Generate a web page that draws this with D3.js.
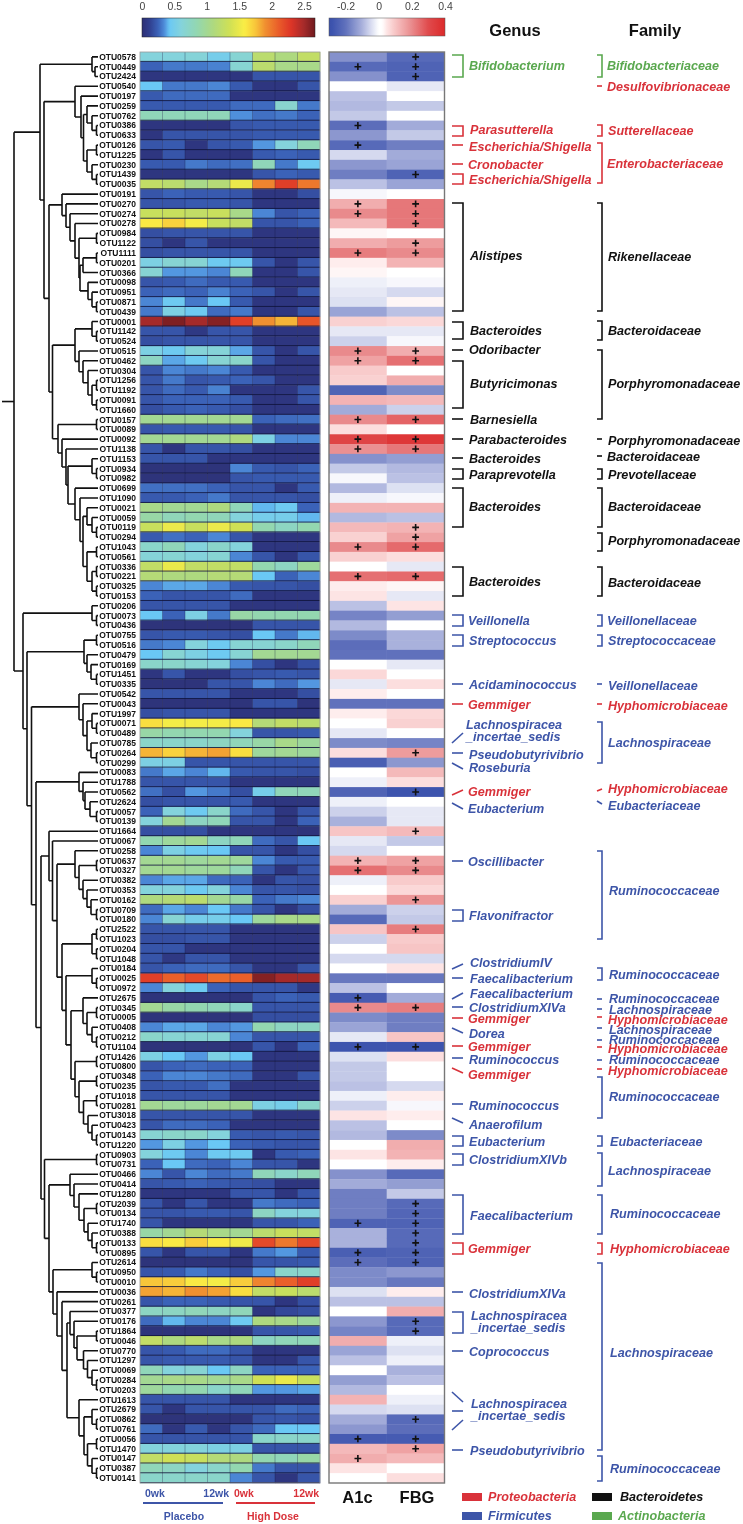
<!DOCTYPE html>
<html><head><meta charset="utf-8">
<script src="https://cdn.jsdelivr.net/npm/d3@7"></script>
<style>html,body{margin:0;padding:0;background:#fff}svg{display:block;filter:blur(.3px)}text{font-family:"Liberation Sans",Arial,sans-serif}</style>
</head><body><svg id="c" width="743" height="1524"></svg>
<script>
const otus=["0578","0449","2424","0540","0197","0259","0762","0386","0633","0126","1225","0230","1439","0035","0191","0270","0274","0278","0984","1122","1111","0201","0366","0098","0951","0871","0439","0001","1142","0524","0515","0462","0304","1256","1192","0091","1660","0157","0089","0092","1138","1153","0934","0982","0699","1090","0021","0059","0119","0294","1043","0561","0336","0221","0325","0153","0206","0073","0436","0755","0516","0479","0169","1451","0335","0542","0043","1997","0071","0489","0785","0264","0299","0083","1788","0562","2624","0057","0139","1664","0067","0258","0637","0327","0382","0353","0162","0709","0180","2522","1023","0204","1048","0184","0025","0972","2675","0345","0005","0408","0212","1104","1426","0800","0348","0235","1018","0281","3018","0423","0143","1220","0903","0731","0466","0414","1280","2039","0134","1740","0388","0133","0895","2614","0950","0010","0036","0261","0377","0176","1864","0046","0770","1297","0069","0284","0203","1613","2679","0862","0761","0056","1470","0147","0387","0141"];

const abundance=[
[.6,.6,.62,.5,.65,1.2,1.1,1.25],[.25,.3,.3,.32,.65,1.2,1.05,1.05],[.05,.05,.05,.05,.05,.2,.2,.2],[.42,.3,.3,.33,.22,.05,.05,.2],[.22,.27,.27,.27,.05,.05,.05,.05],
[.22,.22,.22,.22,.27,.27,.68,.3],[.8,.8,.8,.8,.35,.28,.3,.25],[.05,.05,.05,.05,.2,.22,.22,.22],[.05,.2,.2,.2,.2,.22,.22,.22],[.2,.22,.05,.2,.22,.36,.6,.8],
[.05,.2,.05,.05,.05,.22,.25,.22],[.22,.22,.3,.27,.28,.8,.3,.45],[.05,.05,.05,.05,.05,.2,.25,.22],[1.25,1.2,1.05,1.15,1.5,1.95,2.25,2.0],[.2,.25,.22,.22,.2,.05,.05,.18],
[.2,.2,.22,.22,.2,.05,.05,.05],[1.3,1.3,1.25,1.3,1.05,.33,.2,.25],[1.6,1.7,1.55,1.3,1.25,.2,.2,.25],[.18,.2,.2,.2,.2,.05,.05,.05],[.18,.05,.2,.05,.05,.05,.05,.05],
[.18,.2,.2,.2,.2,.05,.05,.05],[.55,.65,.65,.45,.45,.2,.05,.2],[.65,.36,.36,.33,.8,.05,.05,.2],[.2,.22,.27,.22,.22,.05,.05,.05],[.25,.27,.25,.32,.25,.2,.05,.2],
[.33,.45,.3,.42,.22,.05,.05,.05],[.3,.55,.45,.27,.3,.05,.05,.2],[2.5,2.62,2.5,2.6,2.25,1.9,1.8,2.15],[.2,.2,.07,.2,.2,.05,.05,.05],[.18,.2,.2,.2,.2,.05,.05,.05],
[.55,.45,.62,.62,.38,.2,.05,.2],[.75,.38,.45,.65,.7,.2,.05,.05],[.2,.33,.3,.33,.22,.05,.05,.05],[.2,.3,.2,.22,.25,.2,.05,.05],[.2,.27,.22,.32,.05,.05,.05,.2],
[.2,.25,.25,.25,.22,.05,.05,.2],[.18,.22,.25,.22,.18,.05,.05,.05],[1,1,1,1,1,.25,.27,.28],[.2,.22,.22,.22,.2,.05,.05,.05],[1,1,1,1,1.1,.55,.33,.33],
[.2,.05,.2,.2,.18,.05,.05,.05],[.2,.2,.2,.05,.05,.05,.05,.05],[.03,.03,.03,.03,.33,.22,.2,.25],[.03,.03,.03,.03,.2,.22,.22,.22],[.28,.28,.28,.25,.2,.2,.05,.22],
[.22,.22,.25,.3,.2,.2,.2,.18],[1.05,1,1,1.1,.8,.4,.45,.25],[.9,.8,.85,.8,.6,.5,.5,.4],[1.3,1.5,1.3,1.5,1.35,.85,.75,.85],[.22,.28,.25,.33,.2,.05,.05,.05],
[.7,.8,.6,.7,.6,.05,.05,.05],[.62,.65,.6,.65,.33,.2,.05,.2],[1.25,1.5,1.25,1.25,1.25,.85,.75,.95],[1.15,1.1,1.1,1.15,1.15,.42,.25,.33],[.33,.38,.38,.33,.22,.2,.2,.18],
[.25,.2,.2,.2,.27,.05,.05,.05],[.2,.2,.2,.2,.05,.05,.05,.05],[.42,.25,.55,.3,.9,.85,.85,.85],[.03,.03,.03,.03,.03,.2,.2,.2],[.2,.22,.22,.2,.18,.42,.3,.4],
[.3,.33,.6,.45,.65,.65,.7,.8],[.42,.65,.55,.45,.65,1,1,1],[.7,.7,.65,.6,.33,.18,.05,.18],[.05,.2,.05,.05,.18,.2,.22,.2],[.03,.03,.03,.2,.2,.33,.27,.36],
[.2,.2,.2,.2,.05,.05,.05,.18],[.03,.03,.03,.03,.03,.2,.2,.03],[.18,.2,.2,.2,.05,.05,.05,.05],[1.65,1.55,1.55,1.55,1.6,1.15,1.25,1.2],[.9,.85,.85,.85,.6,.2,.2,.22],
[.7,.7,.7,.75,.8,.9,1.05,.95],[1.8,1.7,1.8,1.85,1.65,.95,1,.95],[.55,.55,.2,.2,.2,.2,.2,.2],[.3,.38,.33,.4,.22,.2,.2,.18],[.2,.2,.2,.2,.05,.05,.05,.05],
[.28,.18,.36,.3,.18,.5,.8,.8],[.18,.2,.2,.2,.22,.05,.05,.05],[.25,.6,.45,.7,.27,.2,.05,.2],[.6,1,.75,.8,.2,.2,.05,.25],[.18,.18,.18,.05,.05,.05,.05,.03],
[.85,.95,1,.75,.8,.27,.2,.42],[.33,.55,.45,.42,.2,.2,.05,.18],[1,1,.95,1,.95,.33,.22,.22],[1,1,.95,.95,.8,.2,.05,.2],[.33,.38,.38,.27,.25,.05,.2,.18],
[.6,.6,.45,.6,.33,.2,.2,.18],[1.1,1.15,1.2,1,.9,.25,.3,.33],[.27,.38,.33,.42,.3,.2,.05,.18],[.33,.65,.5,.5,.42,.95,1.05,1.05],[.2,.2,.2,.2,.05,.05,.05,.05],
[.18,.18,.2,.2,.05,.05,.05,.05],[.2,.2,.05,.05,.05,.05,.05,.05],[.2,.07,.2,.2,.05,.05,.05,.05],[.2,.25,.27,.27,.2,.05,.05,.2],[2.25,2.1,2.2,2.05,2.1,2.6,2.5,2.5],
[.33,.6,.45,.25,.2,.2,.2,.07],[.03,.03,.03,.03,.03,.2,.25,.22],[1,.9,.85,.8,.7,.2,.2,.2],[.03,.03,.03,.03,.03,.18,.18,.18],[.33,.38,.38,.33,.36,.85,.75,.75],
[.7,.65,.65,.65,.33,.2,.2,.2],[.03,.03,.03,.03,.03,.2,.05,.25],[.55,.42,.36,.55,.42,.05,.05,.05],[.2,.25,.27,.25,.25,.05,.05,.05],[.25,.33,.33,.3,.27,.05,.05,.2],
[.2,.22,.22,.28,.05,.05,.05,.05],[.2,.2,.2,.2,.05,.05,.05,.05],[1,.95,.95,1,1,.55,.5,.7],[.2,.2,.2,.2,.2,.05,.05,.05],[.2,.27,.27,.25,.05,.05,.05,.05],
[.65,.7,.7,.6,.22,.2,.22,.2],[.36,.55,.36,.42,.25,.22,.2,.2],[.6,.45,.33,.45,.45,.05,.22,.25],[.25,.42,.27,.25,.33,.2,.2,.05],[.33,.2,.33,.27,.3,.8,.7,.8],
[.2,.22,.25,.22,.2,.18,.05,.05],[.05,.05,.05,.05,.2,.2,.05,.2],[.2,.05,.2,.05,.05,.3,.27,.25],[.2,.2,.22,.22,.2,.75,.6,.6],[.2,.05,.05,.05,.05,.2,.2,.25],
[.9,1,1.15,1.05,1,1.2,1.3,1.25],[1.65,1.6,1.72,1.6,1.52,2.2,2.0,2.2],[.2,.05,.2,.2,.05,.3,.36,.22],[.03,.03,.03,.03,.03,.2,.2,.22],[.2,.22,.3,.25,.18,.36,.7,.7],
[1.75,1.72,1.6,1.55,1.72,1.95,2.1,2.25],[1.85,1.8,1.9,1.85,1.65,1.25,1.3,1.2],[.2,.25,.25,.22,.2,.2,.05,.18],[.75,.75,.8,.75,.8,.05,.15,.18],[.27,.4,.33,.33,.45,1.1,1.05,.95],
[.03,.03,.03,.03,.03,.2,.2,.22],[1.25,1.1,1.2,1.05,1.1,.75,.8,.8],[.2,.22,.27,.27,.2,.05,.05,.05],[.2,.22,.22,.22,.2,.05,.05,.2],[.8,.6,.65,.42,.75,.25,.25,.25],
[1,1.05,1.05,1,1.05,1.35,1.5,1.3],[.95,.85,.85,.7,.8,.36,.36,.38],[.2,.2,.2,.2,.05,.05,.05,.05],[.2,.05,.2,.2,.2,.2,.27,.25],[.03,.03,.03,.03,.03,.2,.2,.18],
[.27,.05,.22,.05,.2,.27,.42,.42],[.2,.2,.2,.2,.2,.7,.7,.7],[.6,.6,.6,.55,.55,.2,.2,.2],[1.25,1.35,1.3,1.15,1.1,.85,.8,.9],[.8,.75,.6,.7,.85,.3,.2,.2],[.7,.7,.7,.7,.33,.2,.05,.2]];

const a1c=[-.15,-.22,-.15,0,-.08,-.09,-.07,-.21,-.14,-.22,-.05,-.14,-.18,-.08,-.01,.14,.2,.12,.03,.14,.22,.04,.03,-.02,-.03,-.04,-.12,.08,-.03,-.06,.2,.16,.09,.08,-.24,.13,-.11,.2,.06,.32,.19,-.15,-.07,-.01,-.09,-.02,.13,-.09,.12,.08,.2,.08,0,.24,.04,.05,-.08,-.17,-.09,-.16,-.21,-.2,0,.07,-.03,.04,-.2,.04,0,-.03,-.16,.06,-.25,0,-.02,-.24,-.02,-.06,-.1,.1,-.03,-.05,.13,.24,-.02,0,.08,-.11,-.22,.1,-.06,0,-.05,0,-.19,-.08,-.26,.2,-.16,-.12,-.03,-.28,-.04,-.07,-.07,-.08,-.02,-.06,.05,-.08,-.09,0,.05,0,-.15,-.11,-.18,-.18,-.18,-.24,-.1,-.1,-.25,-.21,-.16,-.16,-.04,-.08,0,-.14,-.17,.14,-.12,-.08,0,-.13,-.09,.13,-.05,-.11,-.14,-.26,.12,.14,.05,.02];
const fbg=[-.22,-.24,-.24,-.03,0,-.07,.02,-.11,-.07,-.18,-.11,-.12,-.24,-.12,0,.23,.23,.23,0,.17,.2,.13,0,-.01,-.05,.03,-.08,.07,-.03,-.01,.14,.24,.02,.14,-.16,.12,-.06,.26,0,.36,.23,-.13,-.09,-.08,-.04,-.01,.13,-.08,.13,.16,.25,.06,-.03,.25,.03,-.03,.05,-.13,0,-.1,-.1,-.2,-.03,0,.06,.01,-.2,.07,.08,0,-.17,.17,-.14,.12,.06,-.28,0,-.03,-.03,.12,-.07,.02,.16,.2,.09,.07,.18,-.06,-.07,.22,.09,.1,-.05,.05,-.19,0,-.11,.22,-.18,-.18,.1,-.28,.06,0,0,-.05,.04,-.01,.04,0,-.16,.14,.13,.04,-.22,-.13,-.07,-.22,-.23,-.24,-.22,-.22,-.24,-.24,-.14,-.19,.04,-.08,.14,-.22,-.22,-.02,-.04,-.02,-.1,-.08,0,-.02,-.04,-.22,-.21,-.26,.16,.12,0,.06];
const sigA1c=["0449","0386","0126","0270","0274","1111","0515","0462","0157","0092","1138","1043","0221","0637","0327","2675","0345","1104","1740","0895","2614","0056","0147"];
const sigFBG=["0578","0449","2424","1439","0270","0274","0278","1122","1111","0515","0462","0157","0092","1138","0119","0294","1043","0221","0264","0562","1664","0637","0327","0162","2522","0345","1104","2039","0134","1740","0388","0133","0895","2614","0176","1864","0862","0056","1470"];

// Dendrogram clades: [merge height, child, child]; leaves are OTU ids.
const cladeA2a=[17,"0197",[14.5,[11,"0259",[6,"0762",[1.5,"0386","0633"]]],[11,[1.5,"0126","1225"],[6,"0230",[1.5,"1439","0035"]]]]];
const cladeRik=[36,"0191",[32,"0270",[28,"0274",[23,"0278",[19,[1.5,"0984","1122"],[18,[15,[1.5,"1111","0201"],"0366"],[10,"0098",[6,"0951",[1.5,"0871","0439"]]]]]]]]];
const cladeBac=[23,[6,"0001",[1.5,"1142","0524"]],[19,"0515",[15,"0462",[10,"0304",[6,[1.5,"1256","1192"],[1.5,"0091","1660"]]]]]];
const cladeBar=[11,[1.5,"1043","0561"],[6,[1.5,"0336","0221"],[1.5,"0325","0153"]]];
const cladeM=[23,"0699",[18,"1090",[15,[11,"0021",[6,"0059",[1.5,"0119","0294"]]],cladeBar]]];
const cladeP=[40,[1.5,"0157","0089"],[36,"0092",[32,"1138",[30,[6,"1153",[1.5,"0934","0982"]],cladeM]]]];
const cladeA=[58,[6,"0578",[3,"0449","2424"]],[54,[23,"0540",cladeA2a],[49,cladeRik,[45.5,cladeBac,cladeP]]]];
const cladeB1=[14,[1.5,"0755","0516"],[11,"0479",[7,"0169",[1.5,"1451","0335"]]]];
const cladeB2=[19,"0542",[15,"0043",[11,[6,"1997",[1.5,"0071","0489"]],[7,"0785",[1.5,"0264","0299"]]]]];
const cladeB3=[19,"0083",[15,"1788",[13,"0562",[8,"2624",[1.5,"0057","0139"]]]]];
const cladeO=[23,"0258",[19,[1.5,"0637","0327"],[15,"0382",[11,"0353",[7,"0162",[1.5,"0709","0180"]]]]]];
const cladeR1=[15,"2675",[11,[1.5,"0345","0005"],[6,"0408",[1.5,"0212","1104"]]]];
const cladeR2=[23,[1.5,"1426","0800"],[19,[1.5,"0348","0235"],[14.5,[1.5,"1018","0281"],[10,"3018",[6,"0423",[1.5,"0143","1220"]]]]]];
const cladeR=[36,[6,[1.5,"2522","1023"],[1.5,"0204","1048"]],[32,[6,"0184",[1.5,"0025","0972"]],[27,cladeR1,cladeR2]]];
const cladeC1=[49,"1664",[45.5,"0067",[41,cladeO,cladeR]]];
const cladeL1=[28,"0466",[24,"0414",[19,"1280",[14,[1.5,"2039","0134"],[10,"1740",[6,"0388",[1.5,"0133","0895"]]]]]]];
const cladeL2=[28,"0377",[24,"0176",[21,[1.5,"1864","0046"],[14.5,"0770",[10.5,"1297",[6,"0069",[1.5,"0284","0203"]]]]]]];
const cladeL3=[19,"1613",[14,[6,"2679",[1.5,"0862","0761"]],[10.5,[1.5,"0056","1470"],[6,"0147",[1.5,"0387","0141"]]]]];
const cladeL=[45,[6,"2614",[1.5,"0950","0010"]],[41,"0036",[36,"0261",[31,cladeL2,cladeL3]]]];
const cladeC2=[53.5,[1.5,"0903","0731"],[49,cladeL1,cladeL]];
const cladeB=[75,[6,"0206",[1.5,"0073","0436"]],[71,cladeB1,[66.5,cladeB2,[62,cladeB3,[57,cladeC1,cladeC2]]]]];
const tree=[84,cladeA,cladeB];

const heatStops=[0,.12,.25,.35,.42,.6,.85,1.1,1.35,1.58,1.75,1.9,2.1,2.3,2.5,2.67];
const heatColors=["#2d3074","#303f90","#3b62b8","#4f8fdc","#6ac8f5","#84d3dc","#93d7b0","#aed97f","#cfe055","#faee45","#f8c63a","#f09030","#ea5f2a","#dd3527","#a52a2a","#6f1a1e"];
const corrStops=[-.3,-.28,-.2,-.1,-.05,0,.02,.05,.1,.2,.3,.4];
const corrColors=["#3a50aa","#3d54ae","#6071bc","#a9b1dc","#d5d9ef","#ffffff","#ffffff","#fde4e4","#f7c5c5","#e98a8c","#e04a4c","#dc2a2a"];
const heatTicks=[0,.5,1,1.5,2,2.5];
const corrTicks=[-.2,0,.2,.4];
const phylumNames=["Proteobacteria","Bacteroidetes","Firmicutes","Actinobacteria"];
const phylumColors={P:"#d9323a",B:"#111111",F:"#3d55a8",A:"#5aa84f"};

const genusNames=["Bifidobacterium","Parasutterella","Escherichia/Shigella","Cronobacter","Escherichia/Shigella","Alistipes","Bacteroides","Odoribacter","Butyricimonas","Barnesiella","Parabacteroides","Bacteroides","Paraprevotella","Bacteroides","Bacteroides","Veillonella","Streptococcus","Acidaminococcus","Gemmiger","Lachnospiracea\n_incertae_sedis","Pseudobutyrivibrio","Roseburia","Gemmiger","Eubacterium","Oscillibacter","Flavonifractor","ClostridiumIV","Faecalibacterium","Faecalibacterium","ClostridiumXIVa","Gemmiger","Dorea","Gemmiger","Ruminococcus","Gemmiger","Ruminococcus","Anaerofilum","Eubacterium","ClostridiumXIVb","Faecalibacterium","Gemmiger","ClostridiumXIVa","Lachnospiracea\n_incertae_sedis","Coprococcus","Lachnospiracea\n_incertae_sedis","Pseudobutyrivibrio"];
const genusPhyla="APPPPBBBBBBBBBBFFFPFFFPFFFFFFFPFPFPFFFFFPFFFFF".split("");
const familyNames=["Bifidobacteriaceae","Desulfovibrionaceae","Sutterellaceae","Enterobacteriaceae","Rikenellaceae","Bacteroidaceae","Porphyromonadaceae","Porphyromonadaceae","Bacteroidaceae","Prevotellaceae","Bacteroidaceae","Porphyromonadaceae","Bacteroidaceae","Veillonellaceae","Streptococcaceae","Veillonellaceae","Hyphomicrobiaceae","Lachnospiraceae","Hyphomicrobiaceae","Eubacteriaceae","Ruminococcaceae","Ruminococcaceae","Ruminococcaceae","Lachnospiraceae","Hyphomicrobiaceae","Lachnospiraceae","Ruminococcaceae","Hyphomicrobiaceae","Ruminococcaceae","Hyphomicrobiaceae","Ruminococcaceae","Eubacteriaceae","Lachnospiraceae","Ruminococcaceae","Hyphomicrobiaceae","Lachnospiraceae","Ruminococcaceae"];
const familyPhyla="APPPBBBBBBBBBFFFPFPFFFFFPFFPFPFFFFPFF".split("");

/* ---------- layout ---------- */
const svg=d3.select("#c");
const T=52,Bm=1483;
const y=d3.scaleBand().domain(otus).range([T,Bm]);
const xHeat=d3.scaleBand().domain(d3.range(8)).range([140,320]);
const xCorr=d3.scaleBand().domain([0,1]).range([329,444.5]);
const xTree=d3.scaleLinear().domain([0,84]).range([98,14]);
const heatColor=d3.scaleLinear().domain(heatStops).range(heatColors).clamp(true);
const corrColor=d3.scaleLinear().domain(corrStops).range(corrColors).clamp(true);

// dendrogram
const root=d3.hierarchy(tree,d=>Array.isArray(d)?d.slice(1):null);
root.eachAfter(n=>{
  if(!n.children){n.py=y(n.data)+y.bandwidth()/2;n.px=xTree(0);}
  else{n.py=(n.children[0].py+n.children[n.children.length-1].py)/2;n.px=xTree(n.data[0]);}
});
const gT=svg.append("g").attr("fill","none").attr("stroke","#111").attr("stroke-width",1.6);
gT.selectAll("path").data(root.descendants().filter(n=>n.children)).join("path")
 .attr("d",n=>{const p=d3.path();
   n.children.forEach(c=>{p.moveTo(n.px,c.py);p.lineTo(c.px,c.py);});
   p.moveTo(n.px,n.children[0].py);p.lineTo(n.px,n.children[n.children.length-1].py);return p;});
gT.append("line").attr("x1",2).attr("x2",xTree(84)).attr("y1",root.py).attr("y2",root.py);

// OTU labels
svg.append("g").selectAll("text").data(otus).join("text")
 .attr("x",136).attr("y",d=>y(d)+y.bandwidth()/2).attr("dy",".35em").attr("text-anchor","end")
 .attr("font-size",8.5).attr("font-weight","bold").attr("fill","#111").text(d=>"OTU"+d);

// heat map
const gH=svg.append("g");
otus.forEach((o,i)=>{
  gH.selectAll(null).data(abundance[i]).join("rect")
   .attr("x",(d,j)=>xHeat(j)).attr("width",xHeat.bandwidth()+.3)
   .attr("y",y(o)).attr("height",y.bandwidth()+.3).attr("fill",d=>heatColor(d));
});
gH.selectAll(null).data(otus).join("line").attr("x1",140).attr("x2",320)
 .attr("y1",d=>y(d)+y.bandwidth()-.4).attr("y2",d=>y(d)+y.bandwidth()-.4)
 .attr("stroke","#10143c").attr("stroke-width",1).attr("opacity",.85);
gH.selectAll(null).data(d3.range(1,8)).join("line").attr("x1",d=>xHeat(d)).attr("x2",d=>xHeat(d))
 .attr("y1",T).attr("y2",Bm).attr("stroke","#10143c").attr("stroke-width",.7).attr("opacity",.45);
gH.append("rect").attr("x",140).attr("y",T).attr("width",180).attr("height",Bm-T).attr("fill","none").attr("stroke","#999").attr("stroke-width",.8);

// correlation panel
const gC=svg.append("g");
[a1c,fbg].forEach((arr,k)=>{
  gC.selectAll(null).data(arr).join("rect").attr("x",xCorr(k)).attr("width",xCorr.bandwidth()+.2)
   .attr("y",(d,i)=>y(otus[i])).attr("height",y.bandwidth()+.3).attr("fill",d=>corrColor(d));
});
gC.append("rect").attr("x",xCorr(0)).attr("y",T).attr("width",115.5).attr("height",Bm-T).attr("fill","none").attr("stroke","#777").attr("stroke-width",1.4);
const plus=(list,k)=>{const cx=xCorr(k)+xCorr.bandwidth()/2;
  list.forEach(o=>{const cy=y(o)+y.bandwidth()/2;
   gC.append("path").attr("d",`M${cx-3.4},${cy}H${cx+3.4}M${cx},${cy-3.4}V${cy+3.4}`).attr("stroke","#111").attr("stroke-width",1.6);});};
plus(sigA1c,0);plus(sigFBG,1);

// colour bars
const xHB=d3.scaleLinear().domain([0,2.67]).range([142,315]);
const xCB=d3.scaleLinear().domain([-.3,.4]).range([329,445]);
const defs=svg.append("defs");
function grad(id,scale,col,n){const g=defs.append("linearGradient").attr("id",id);
  const dom=scale.domain();d3.range(n+1).forEach(i=>{const v=dom[0]+(dom[1]-dom[0])*i/n;
   g.append("stop").attr("offset",(i/n*100)+"%").attr("stop-color",col(v));});}
grad("gh",xHB,heatColor,80);grad("gc",xCB,corrColor,60);
svg.append("rect").attr("x",142).attr("y",18).attr("width",173).attr("height",19).attr("fill","url(#gh)").attr("stroke","#222").attr("stroke-width",.5);
svg.append("rect").attr("x",329).attr("y",18).attr("width",116).attr("height",18).attr("fill","url(#gc)").attr("stroke","#555").attr("stroke-width",.5);
function ax(scale,ticks,fmt){const g=svg.append("g").attr("transform","translate(0,13)")
   .call(d3.axisTop(scale).tickValues(ticks).tickSize(0).tickFormat(fmt));
  g.select(".domain").remove();
  g.selectAll("text").attr("font-family",'"Liberation Sans",Arial,sans-serif').attr("font-size",10.5).attr("fill","#444").attr("dy",0);}
ax(xHB,heatTicks,d=>d3.format("~g")(d));
ax(xCB,corrTicks,d=>d3.format("~g")(d).replace("−","-"));

// headers
const label=(t,x,yy,o={})=>svg.append("text").attr("x",x).attr("y",yy).attr("dy",".35em")
  .attr("text-anchor",o.a||"start").attr("font-size",o.s||12.6).attr("font-weight","bold")
  .attr("font-style",o.i===false?"normal":"italic").attr("fill",o.c||"#111").text(t);
label("Genus",515,30,{a:"middle",s:16.5,i:false});
label("Family",655,30,{a:"middle",s:16.5,i:false});
label("A1c",357.5,1497,{a:"middle",s:16.5,i:false});
label("FBG",417,1497,{a:"middle",s:16.5,i:false});

// week axis
const BL=phylumColors.F,RD=phylumColors.P;
label("0wk",145,1493,{s:10.5,i:false,c:BL});
label("12wk",229,1493,{s:10.5,i:false,c:BL,a:"end"});
label("0wk",234,1493,{s:10.5,i:false,c:RD});
label("12wk",319,1493,{s:10.5,i:false,c:RD,a:"end"});
svg.append("line").attr("x1",143).attr("x2",223).attr("y1",1503).attr("y2",1503).attr("stroke",BL).attr("stroke-width",2);
svg.append("line").attr("x1",236).attr("x2",315).attr("y1",1503).attr("y2",1503).attr("stroke",RD).attr("stroke-width",2);
label("Placebo",184,1516,{s:10.5,i:false,c:BL,a:"middle"});
label("High Dose",273,1516,{s:10.5,i:false,c:RD,a:"middle"});

// phylum legend
[[0,462,1497,"P",488],[1,592,1497,"B",620],[2,462,1516,"F",488],[3,592,1516,"A",618]].forEach(([i,x,yy,c,tx])=>{
  svg.append("rect").attr("x",x).attr("y",yy-4).attr("width",20).attr("height",8).attr("fill",phylumColors[c]);
  label(phylumNames[i],tx,yy,{c:phylumColors[c]});
});

// annotation layout: [shape, y0, y1, textY, textX]
const genusLayout=[["b",55,77,66,469],["b",126,136,130,470],["s",145,145,147,469],["s",164,164,165,468],["b",174,184,180,469],["b",203,311,256,470],["b",322,339,331,470],["s",350,350,350,469],["b",361,408,384,470],["s",419,419,419.5,470],["s",439,439,440,469],["s",458,458,459,469],["b",469,479,474.5,469],["b",488,527,507,469],["b",567,596,582,469],["b",615,626,621,468],["b",635,646,641,469],["s",684,684,685,469],["s",704,704,705,468],["s",743,733,725,466],["s",753,753,754.5,469],["s",763,769,768,469],["s",795,790,792,468],["s",803,809,809,468],["s",861,861,862,468],["b",910,921,916,469],["s",969,964,963,470],["s",978,978,979,470],["s",999,993,994,470],["s",1007,1007,1008,469],["s",1018,1018,1019,468],["s",1028,1033,1034,469],["s",1046,1046,1047,468],["s",1058,1058,1060,469],["s",1068,1073,1075,468],["s",1104,1104,1106,469],["s",1118,1123,1125,469],["b",1136,1146,1141.5,469],["b",1154,1165,1160,469],["b",1195,1234,1216,470],["b",1243,1254,1249,468],["s",1292,1292,1293.5,469],["b",1312,1333,1316,471],["s",1351,1351,1352,469],["x",0,0,1404,471],["s",1450,1450,1451,470]];
const familyLayout=[["b",55,77,65.5,607],["s",86,86,87,607],["b",125,136,130.5,608],["b",143,183,163.5,607],["b",203,311,257,608],["b",321,340,331,608],["b",350,419,384,608],["s",439,439,440.5,608],["s",456,456,457,607],["b",469,479,474.5,608],["b",488,527,507,608],["b",533,551,541,608],["b",567,596,583,608],["b",615,626,620.5,607],["b",635,646,640.5,608],["s",684,684,686,608],["s",704,704,706,608],["b",722,763,742.5,608],["s",791,789,788.5,608],["s",801,804,806,608],["b",851,939,891,609],["b",968,980,974.5,609],["s",999,999,999,609],["s",1009,1009,1010,609],["s",1017,1017,1020,608],["s",1028,1028,1029.5,609],["s",1040,1040,1039.5,609],["s",1047,1047,1049,608],["s",1060,1060,1060,609],["s",1069,1069,1071,608],["b",1077,1118,1096.5,609],["b",1136,1146,1142,610],["b",1153,1186,1171,608],["b",1195,1234,1213.5,610],["b",1243,1254,1249,610],["b",1263,1450,1353,610],["b",1456,1481,1469,610]];
function notes(names,phyla,layout,x0,x1){
  names.forEach((n,i)=>{const [sh,a,b,ty,tx]=layout[i],c=phylumColors[phyla[i]];
    const st=(d)=>svg.append("path").attr("d",d).attr("fill","none").attr("stroke",c).attr("stroke-width",1.6);
    if(sh==="b")st(`M${x0},${a}H${x1}V${b}H${x0}`);
    else if(sh==="s")st(`M${x0},${a}L${x1},${b}`);
    else{st(`M${x0},1392L${x1},1402`);st(`M${x0},1411H${x1}`);st(`M${x0},1430L${x1},1420`);}
    n.split("\n").forEach((t,k)=>label(t,tx,ty+k*12,{c}));
  });
}
notes(genusNames,genusPhyla,genusLayout,452,463);
notes(familyNames,familyPhyla,familyLayout,597,602);
</script></body></html>
